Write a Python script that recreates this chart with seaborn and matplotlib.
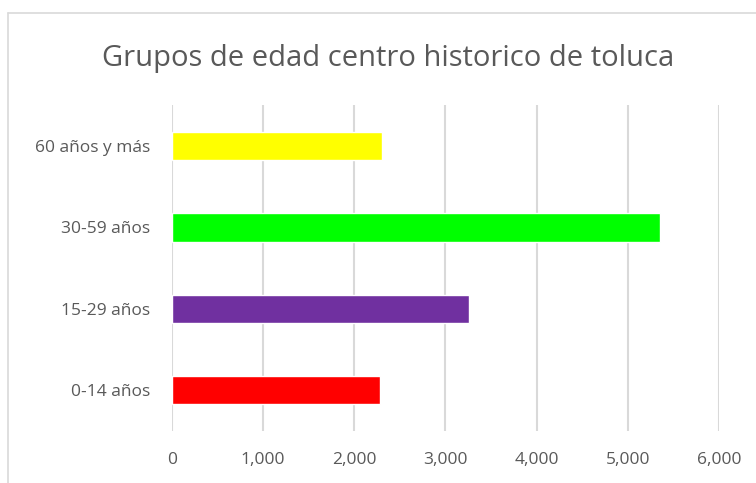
import pandas as pd
import matplotlib.pyplot as plt
import seaborn as sns
from matplotlib.lines import Line2D
from matplotlib.ticker import FuncFormatter

grupos = ['60 años y más', '30-59 años', '15-29 años', '0-14 años']
poblacion = [2305, 5355, 3255, 2280]
colores = ['#FFFF00', '#00FF00', '#7030A0', '#FF0000']
titulo = 'Grupos de edad centro historico de toluca'

df = pd.DataFrame({'Grupo': grupos, 'Poblacion': poblacion})

sns.set_theme(style="white")
plt.rcParams['font.family'] = ['Open Sans', 'DejaVu Sans']

fig = plt.figure(figsize=(7.56, 4.83), dpi=100)
ax = fig.add_axes([0.2275, 0.108, 0.7235, 0.674])

sns.barplot(data=df, x='Poblacion', y='Grupo', hue='Grupo', palette=colores,
            order=grupos, hue_order=grupos, width=0.35, legend=False, ax=ax,
            saturation=1, zorder=3)

ax.set_xlim(0, 6000)
ax.set_xticks(range(0, 6001, 1000))
ax.xaxis.set_major_formatter(FuncFormatter(lambda v, p: f"{int(v):,}"))
ax.grid(axis='x', color='#d9d9d9', linewidth=1.5, zorder=0)
ax.set_axisbelow(True)
for s in ax.spines.values():
    s.set_visible(False)
ax.tick_params(axis='both', length=0, labelsize=12.5, colors='#595959')
ax.tick_params(axis='x', pad=15)
ax.tick_params(axis='y', pad=16)
ax.set_xlabel('')
ax.set_ylabel('')

fig.text(0.513, 0.878, titulo, ha='center', va='center', fontsize=21, color='#595959')

# chart frame
fig.add_artist(Line2D([0.0106, 0.0106], [0, 0.973], transform=fig.transFigure, color='#d9d9d9', lw=1.2))
fig.add_artist(Line2D([0.0106, 1], [0.973, 0.973], transform=fig.transFigure, color='#d9d9d9', lw=1.2))

fig.savefig('out.png', dpi=100)
